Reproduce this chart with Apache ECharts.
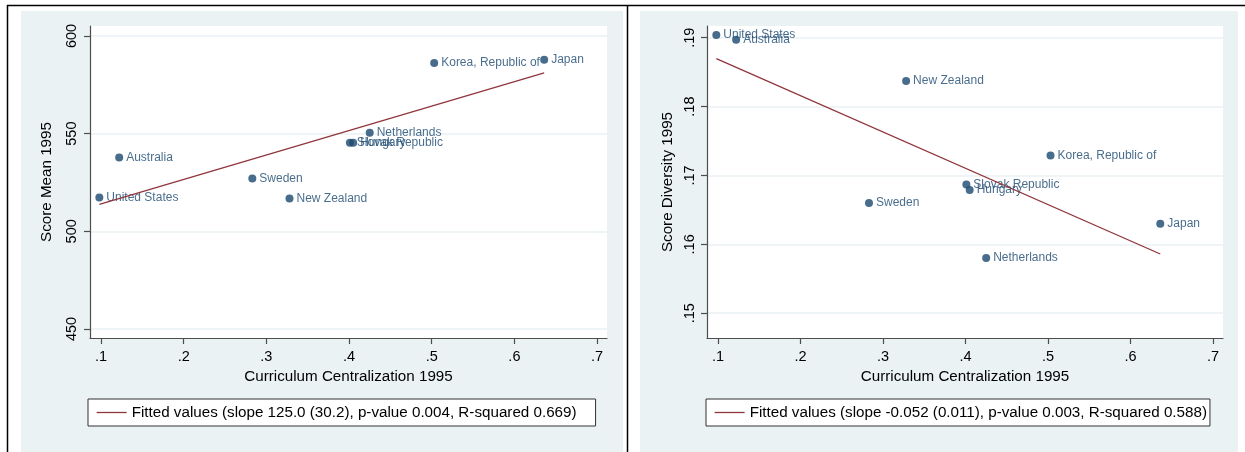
<!DOCTYPE html>
<html>
<head>
<meta charset="utf-8">
<script src="https://cdn.jsdelivr.net/npm/echarts@6/dist/echarts.min.js"></script>
<style>
html,body{margin:0;padding:0;background:#fff;}
#chart{width:1245px;height:452px;}
</style>
</head>
<body>
<div id="chart"></div>
<script>
const countries = ['United States','Australia','Sweden','New Zealand','Slovak Republic','Hungary','Netherlands','Korea, Republic of','Japan'];
const centralization = [0.098, 0.122, 0.283, 0.328, 0.401, 0.405, 0.425, 0.503, 0.636];
const scoreMean = [517.3, 537.8, 527.0, 516.8, 545.4, 545.4, 550.5, 586.2, 587.8];
const scoreDiversity = [0.1904, 0.1897, 0.1660, 0.1837, 0.1687, 0.1679, 0.1580, 0.1729, 0.1630];
const fitX = [0.098, 0.636];
const fitMean = [513.8, 581.1];
const fitDiversity = [0.18696, 0.1586];
const xTicks = [0.1, 0.2, 0.3, 0.4, 0.5, 0.6, 0.7];
const meanTicks = [450, 500, 550, 600];
const diversityTicks = [0.15, 0.16, 0.17, 0.18, 0.19];
const legendMean = 'Fitted values (slope 125.0 (30.2), p-value 0.004, R-squared 0.669)';
const legendDiversity = 'Fitted values (slope -0.052 (0.011), p-value 0.003, R-squared 0.588)';
const xTitle = 'Curriculum Centralization 1995';
const yTitleMean = 'Score Mean 1995';
const yTitleDiversity = 'Score Diversity 1995';

const FONT = '"Liberation Sans", Arial, sans-serif';
const NAVY = '#1a476f';
const MAROON = '#90353b';
const BG = '#eaf2f3';
const AXIS = '#4d4d4d';

const chart = echarts.init(document.getElementById('chart'), null, {renderer: 'canvas'});

function xAxisCfg(gridIndex) {
  return {
    gridIndex, type: 'value', min: 0.0867, max: 0.712,
    name: xTitle, nameLocation: 'middle', nameGap: 31,
    nameTextStyle: {fontFamily: FONT, fontSize: 15.2, color: '#000'},
    axisLine: {show: true, onZero: false, lineStyle: {color: AXIS, width: 1.2}},
    axisTick: {show: true, inside: false, length: 6, customValues: xTicks, lineStyle: {color: AXIS, width: 1.2}},
    axisLabel: {customValues: xTicks, margin: 11, fontFamily: FONT, fontSize: 14.5, color: '#000',
      formatter: v => v.toFixed(1).replace(/^0/, '')},
    splitLine: {show: false}
  };
}
function yAxisCfg(gridIndex, min, max, ticks, name, gap, margin, fmt) {
  return {
    gridIndex, type: 'value', min, max,
    name, nameLocation: 'middle', nameGap: gap, nameRotate: 90,
    nameTextStyle: {fontFamily: FONT, fontSize: 15.2, color: '#000'},
    axisLine: {show: true, onZero: false, lineStyle: {color: AXIS, width: 1.2}},
    axisTick: {show: true, inside: false, length: 6, customValues: ticks, lineStyle: {color: AXIS, width: 1.2}},
    axisLabel: {customValues: ticks, rotate: 90, margin, fontFamily: FONT, fontSize: 14.5, color: '#000', formatter: fmt},
    splitLine: {show: true, lineStyle: {color: BG, width: 1.5}}
  };
}

function scatterData(ys) {
  return centralization.map((x, i) => ({value: [x, ys[i]], name: countries[i]}));
}

function legendCfg(text, left, padRight) {
  return {data: [text], left, top: 399, orient: 'horizontal', padding: [6, padRight, 6, 8],
    backgroundColor: '#fff', borderColor: '#333', borderWidth: 1, itemWidth: 30, itemHeight: 14,
    itemStyle: {opacity: 0}, lineStyle: {color: MAROON, width: 1.3},
    textStyle: {fontFamily: FONT, fontSize: 15.2, color: '#000'}};
}

const option = {
  animation: false,
  backgroundColor: '#fff',
  graphic: [
    {type: 'rect', shape: {x: 21, y: 11, width: 602, height: 441}, style: {fill: BG}, z: -10},
    {type: 'rect', shape: {x: 640, y: 11, width: 598, height: 441}, style: {fill: BG}, z: -10},
    {type: 'line', shape: {x1: 7, y1: 5.5, x2: 1245, y2: 5.5}, style: {stroke: '#000', lineWidth: 1.5}, z: -5},
    {type: 'line', shape: {x1: 7.5, y1: 5, x2: 7.5, y2: 452}, style: {stroke: '#000', lineWidth: 1.5}, z: -5},
    {type: 'line', shape: {x1: 627.5, y1: 5, x2: 627.5, y2: 452}, style: {stroke: '#000', lineWidth: 1.5}, z: -5}
  ],
  grid: [
    {left: 90, top: 26, width: 517, height: 312, show: true, backgroundColor: '#fff', borderWidth: 0},
    {left: 707, top: 26, width: 516, height: 312, show: true, backgroundColor: '#fff', borderWidth: 0}
  ],
  legend: [legendCfg(legendMean, 88, 19), legendCfg(legendDiversity, 706, 3)],
  xAxis: [xAxisCfg(0), xAxisCfg(1)],
  yAxis: [
    yAxisCfg(0, 445.4, 605.1, meanTicks, yTitleMean, 36, 11, v => String(v)),
    yAxisCfg(1, 0.1464, 0.1917, diversityTicks, yTitleDiversity, 32, 10, v => v.toFixed(2).replace(/^0/, ''))
  ],
  series: [
    {type: 'scatter', name: 'Score Mean', xAxisIndex: 0, yAxisIndex: 0, symbolSize: 8,
      itemStyle: {color: NAVY}, data: scatterData(scoreMean),
      label: {show: true, position: 'right', distance: 3, formatter: p => p.name,
        fontFamily: FONT, fontSize: 12, color: NAVY}},
    {type: 'line', name: legendMean, xAxisIndex: 0, yAxisIndex: 0, symbol: 'none',
      lineStyle: {color: MAROON, width: 1.3}, itemStyle: {color: MAROON},
      data: fitX.map((x, i) => [x, fitMean[i]])},
    {type: 'scatter', name: 'Score Diversity', xAxisIndex: 1, yAxisIndex: 1, symbolSize: 8,
      itemStyle: {color: NAVY}, data: scatterData(scoreDiversity),
      label: {show: true, position: 'right', distance: 3, formatter: p => p.name,
        fontFamily: FONT, fontSize: 12, color: NAVY}},
    {type: 'line', name: legendDiversity, xAxisIndex: 1, yAxisIndex: 1, symbol: 'none',
      lineStyle: {color: MAROON, width: 1.3}, itemStyle: {color: MAROON},
      data: fitX.map((x, i) => [x, fitDiversity[i]])}
  ]
};
chart.setOption(option);
</script>
</body>
</html>
